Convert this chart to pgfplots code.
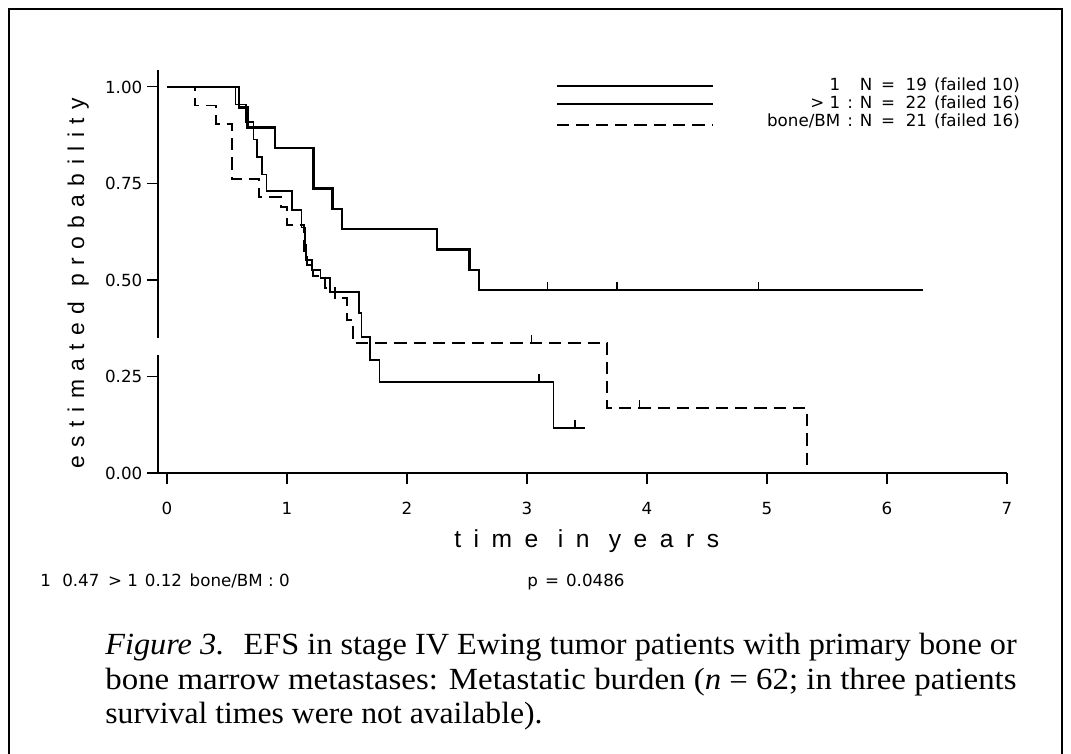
\documentclass[border=0pt]{standalone}
\usepackage{fontspec}
\setmainfont{DejaVu Sans}
\newfontfamily\capfont{Liberation Serif}
\newfontfamily\spacedx[LetterSpace=51]{Liberation Sans}
\newfontfamily\spacedy[LetterSpace=37]{Liberation Sans}
\usepackage{pgfplots}
\pgfplotsset{compat=1.18}

\begin{document}
\begin{tikzpicture}
\useasboundingbox (0,0) rectangle (21.42cm,15.08cm);
\begin{axis}[
  at={(3.16cm,5.62cm)}, anchor=south west,
  scale only axis, width=16.98cm, height=8.06cm,
  xmin=-0.075, xmax=7, ymin=0, ymax=1.044,
  clip=false,
  axis x line*=bottom, axis y line*=left,
  y axis line style={draw=none},
  x axis line style={line width=0.8pt},
  xtick={0,1,2,3,4,5,6,7},
  ytick={0,0.25,0.5,0.75,1},
  yticklabels={0.00,0.25,0.50,0.75,1.00},
  tick align=outside, major tick length=0.22cm,
  tick style={line width=0.6pt, black},
  ticklabel style={font=\fontsize{9.5}{11}\selectfont},
  /pgf/number format/assume math mode=true,
  xticklabel style={yshift=-0.24cm},
  yticklabel style={xshift=0.03cm},
  xlabel={\spacedx time in years},
  ylabel={\spacedy estimated probability},
  xlabel style={at={(axis description cs:0.505,-0.169)}, anchor=center, font=\fontsize{14}{16}\selectfont},
  ylabel style={at={(axis description cs:-0.094,0.471)}, anchor=center, font=\fontsize{13}{15}\selectfont},
]
% y axis line with a gap
\draw[line width=0.8pt] (axis cs:-0.075,0) -- (axis cs:-0.075,0.306);
\draw[line width=0.8pt] (axis cs:-0.075,0.35) -- (axis cs:-0.075,1.044);
% group 1 : N = 19
\addplot[const plot, line width=1.3pt, black] coordinates {
(0,1) (0.60,0.947) (0.67,0.895) (0.90,0.842) (1.22,0.737) (1.38,0.684)
(1.46,0.632) (2.25,0.579) (2.52,0.526) (2.60,0.474) (6.30,0.474)};
% group > 1 : N = 22
\addplot[const plot, line width=0.9pt, black] coordinates {
(0,1) (0.57,0.955) (0.66,0.909) (0.72,0.864) (0.75,0.818) (0.79,0.773)
(0.83,0.731) (1.04,0.682) (1.12,0.636) (1.15,0.591) (1.16,0.552) (1.21,0.526)
(1.28,0.505) (1.36,0.469) (1.60,0.414) (1.62,0.352) (1.69,0.293) (1.77,0.236)
(3.22,0.117) (3.48,0.117)};
% bone/BM : N = 21
\addplot[const plot, line width=1.1pt, black, dash pattern=on 7pt off 4pt] coordinates {
(0,1) (0.23,0.952) (0.41,0.905) (0.54,0.762) (0.77,0.714) (0.95,0.690)
(1.00,0.643) (1.14,0.571) (1.17,0.540) (1.22,0.510) (1.32,0.480) (1.40,0.453)
(1.50,0.396) (1.55,0.337) (3.67,0.168) (5.33,0)};
% censoring ticks
\addplot[only marks, mark=|, mark size=2.5pt, black,
  mark options={line width=0.7pt, yshift=2pt}] coordinates {
(3.17,0.474) (3.75,0.474) (4.93,0.474)
(3.10,0.236) (3.40,0.117)
(3.04,0.337) (3.94,0.168)};
\end{axis}
\begin{scope}[x=0.02cm,y=0.02cm]
% outer frame
\draw[line width=1pt] (9,-20) -- (9,745) -- (1062,745) -- (1062,-20);
% legend
\draw[line width=1.2pt] (557,668) -- (713,668);
\draw[line width=1.2pt] (557,650) -- (713,650);
\draw[line width=1.1pt, dash pattern=on 7pt off 4pt] (557,629) -- (713,629);
\node[anchor=north east, inner sep=0pt] at (1020,676) {\fontsize{9.5}{9.9}\selectfont
\begin{tabular}{@{}r@{\hspace{4pt}}c@{\hspace{4pt}}c@{\hspace{5pt}}c@{\hspace{6pt}}r@{\hspace{4pt}}l@{}}
1 & & N & = & 19 & (failed 10)\\
> 1 & : & N & = & 22 & (failed 16)\\
bone/BM & : & N & = & 21 & (failed 16)
\end{tabular}};
% statistics line
\node[anchor=base west, inner sep=0pt] at (40,167) {\fontsize{9.5}{11}\selectfont
\makebox[12.5pt][l]{1}\makebox[26.1pt][l]{0.47}\makebox[20.9pt][l]{> 1}\makebox[25.5pt][l]{0.12}bone/BM : 0};
\node[anchor=base west, inner sep=0pt] at (527,167) {\fontsize{9.5}{11}\selectfont p\hspace{4pt}=\hspace{4pt}0.0486};
% caption
\node[anchor=base west, inner sep=0pt] at (105,99) {\scalebox{1.05}[1]{\capfont\fontsize{17.5}{20}\selectfont\textit{Figure 3.}\hspace{0.6em}EFS in stage IV Ewing tumor patients with primary bone or}};
\node[anchor=base west, inner sep=0pt] at (105,64) {\scalebox{1.07}[1]{\capfont\fontsize{17.5}{20}\selectfont bone marrow metastases: Metastatic burden (\textit{n} = 62; in three patients}};
\node[anchor=base west, inner sep=0pt] at (105,30) {\scalebox{1.03}[1]{\capfont\fontsize{17.5}{20}\selectfont survival times were not available).}};
\end{scope}
\end{tikzpicture}
\end{document}
